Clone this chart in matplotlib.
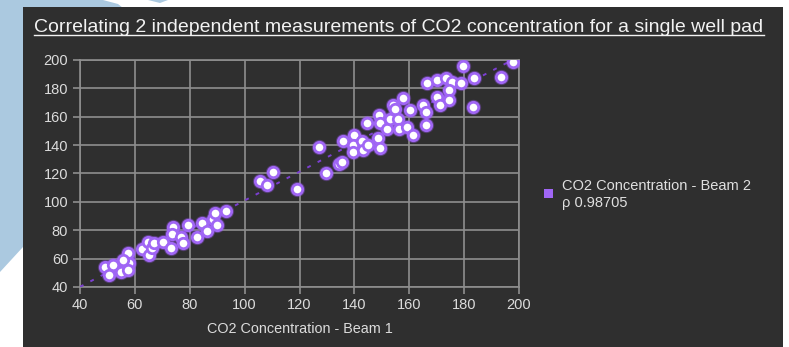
import numpy as np
from matplotlib import pyplot as plt
from matplotlib.patches import Rectangle, Polygon
from matplotlib.lines import Line2D

plt.rcParams['font.family'] = ['Liberation Sans', 'DejaVu Sans']

# CO2 readings, beam 1 vs beam 2
beam1 = [49.1, 52.1, 50.6, 54.8, 57.6, 58.0, 57.6, 55.6, 62.5, 64.9, 65.3, 66.1, 67.1, 70.1,
         73.2, 74.0, 73.6, 76.8, 77.7, 79.5, 82.7, 84.3, 86.2, 88.6, 89.8, 89.2, 93.2,
         105.6, 108.3, 110.4, 119.0, 127.1, 129.5, 134.5, 135.6,
         135.7, 139.9, 139.6, 139.6, 142.7, 143.0, 145.1, 148.7, 149.3, 144.5, 149.1, 149.3,
         151.8, 153.0, 154.2, 154.8, 156.0, 156.4, 157.6, 159.1, 160.3, 161.2, 164.9, 166.1,
         166.1, 166.6, 170.2, 173.4, 175.5, 174.6, 170.2, 171.2, 174.6, 178.7, 179.7, 183.7,
         183.1, 193.4, 197.7]
beam2 = [54.3, 55.5, 48.5, 50.8, 63.7, 57.1, 52.0, 59.0, 66.6, 71.9, 62.5, 67.3, 71.2, 71.9,
         67.3, 82.5, 77.1, 75.5, 70.8, 83.7, 75.0, 85.3, 79.5, 87.7, 83.7, 92.4, 93.8,
         114.7, 111.9, 121.3, 108.8, 138.4, 120.6, 126.7, 128.3,
         142.9, 147.1, 140.1, 135.3, 142.9, 136.5, 140.1, 144.8, 138.2, 155.4, 161.2, 155.4,
         151.3, 158.4, 168.3, 165.4, 158.4, 151.3, 173.0, 153.0, 164.7, 147.1, 168.3, 163.1,
         154.2, 183.6, 185.9, 187.5, 184.7, 178.8, 173.7, 168.3, 171.8, 183.6, 196.0, 187.5,
         167.1, 188.2, 198.8]
ticks = [40, 60, 80, 100, 120, 140, 160, 180, 200]
title = 'Correlating 2 independent measurements of CO2 concentration for a single well pad'
series_name = 'CO2 Concentration - Beam 2'
rho_text = '\u03c1 0.98705'

W, H = 789, 347
fig = plt.figure(figsize=(W / 100, H / 100), dpi=100)
fig.patch.set_facecolor('white')

def px(x, y):
    # pixel coords (top-left origin) -> figure fraction
    return (x / W, 1 - y / H)

# light blue backdrop shapes on the left
blue = '#abc9e0'
fig.patches.append(Polygon([px(0, 0), px(103, 0), px(118, 4), px(128, 12), px(30, 12),
                            px(30, 243), px(23, 247), px(0, 272)],
                           closed=True, transform=fig.transFigure, facecolor=blue,
                           edgecolor='none', zorder=0))
fig.patches.append(Polygon([px(148, 0), px(168, 0), px(160, 3)], closed=True,
                           transform=fig.transFigure, facecolor=blue, edgecolor='none', zorder=0))
# dark panel
fig.patches.append(Rectangle(px(23, 347), 760 / W, 340 / H, transform=fig.transFigure,
                             facecolor='#2f2f2f', edgecolor='none', zorder=1))

ax = fig.add_axes([80 / W, 1 - 287 / H, 439 / W, 227 / H])
ax.set_facecolor('none')
ax.set_zorder(2)

grid_col = '#8e8e8e'
ax.set_xlim(40, 200)
ax.set_ylim(40, 200)
ax.set_xticks(ticks)
ax.set_yticks(ticks)
ax.grid(True, color=grid_col, linewidth=1.2)
for s in ax.spines.values():
    s.set_color(grid_col)
    s.set_linewidth(1.2)
ax.tick_params(colors=grid_col, length=5, width=1.2, labelcolor='#dcdcdc', labelsize=10.5)
ax.tick_params(axis='x', pad=3)
ax.set_axisbelow(True)

# trend line from a linear fit
k, b = np.polyfit(beam1, beam2, 1)
xs = np.array([40, 200])
ax.plot(xs, k * xs + b, color='#7b3fd0', linewidth=1.4, linestyle=(0, (2, 4)), zorder=3)

# points: soft glow + white dot with purple ring
ax.plot(beam1, beam2, 'o', markersize=11, color='#9b59f0', alpha=0.35, markeredgewidth=0, zorder=4)
ax.plot(beam1, beam2, 'o', markersize=7.5, markerfacecolor='white', markeredgecolor='#a066f5',
        markeredgewidth=2, zorder=5)

ax.set_xlabel('CO2 Concentration - Beam 1', color='#dcdcdc', fontsize=10.4, labelpad=7)

# legend drawn by hand
fig.patches.append(Rectangle(px(544, 198), 9 / W, 9 / H, transform=fig.transFigure,
                             facecolor='#a066f5', edgecolor='none', zorder=3))
fig.text(*px(562, 186), series_name, color='#e0e0e0', fontsize=10.5, va='center', ha='left', zorder=3)
fig.text(*px(562, 203), rho_text, color='#e0e0e0', fontsize=10.5, va='center', ha='left', zorder=3)

t = fig.text(*px(399, 27), title, color='#f2f2f2', fontsize=14, ha='center', va='center', zorder=3)

# underline the title
fig.canvas.draw()
bb = t.get_window_extent().transformed(fig.transFigure.inverted())
fig.lines.append(Line2D([bb.x0, bb.x1], [bb.y0 + 0.5 / H, bb.y0 + 0.5 / H], transform=fig.transFigure,
                        color='#f2f2f2', linewidth=1, zorder=3))

plt.savefig('out.png', dpi=100, facecolor=fig.get_facecolor())
